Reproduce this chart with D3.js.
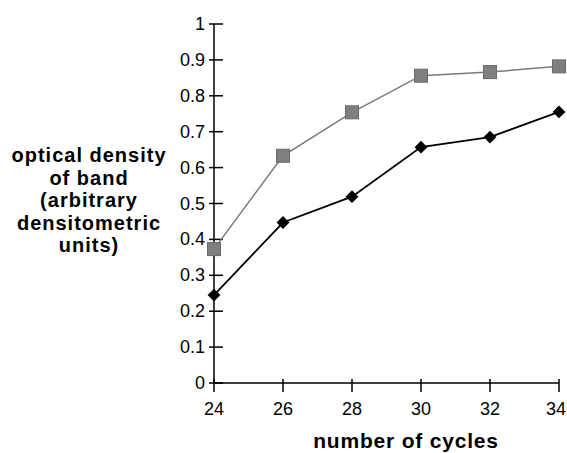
<!DOCTYPE html>
<html><head><meta charset="utf-8">
<script src="https://cdn.jsdelivr.net/npm/d3@7"></script>
<style>body{margin:0;background:#fff}svg{display:block}text{font-family:Arial,"Liberation Sans",sans-serif}</style>
</head><body>
<svg id="c" width="567" height="453"></svg>
<script>
const cycles = [24, 26, 28, 30, 32, 34];
const seriesSquare = [0.373, 0.633, 0.754, 0.856, 0.866, 0.882];
const seriesDiamond = [0.245, 0.447, 0.519, 0.657, 0.685, 0.755];
const yTicks = [0, 0.1, 0.2, 0.3, 0.4, 0.5, 0.6, 0.7, 0.8, 0.9, 1];
const xTicks = [24, 26, 28, 30, 32, 34];
const yTitle = ["optical density", "of band", "(arbitrary", "densitometric", "units)"];
const xTitle = "number of cycles";

const svg = d3.select("#c");
const x = d3.scaleLinear().domain([24, 34]).range([214, 559]);
const y = d3.scaleLinear().domain([0, 1]).range([383, 24]);

// y axis
const ya = svg.append("g").attr("transform", "translate(214,0)");
ya.append("line").attr("x1",0).attr("x2",0).attr("y1",y(0)).attr("y2",y(1)).attr("stroke","#000").attr("stroke-width",1.5);
ya.selectAll("line.t").data(yTicks).join("line").attr("class","t")
  .attr("x1",-5).attr("x2",9).attr("y1",d=>y(d)).attr("y2",d=>y(d)).attr("stroke","#000").attr("stroke-width",1.5);
ya.selectAll("text").data(yTicks).join("text")
  .attr("x",-9).attr("y",d=>y(d)+6).attr("text-anchor","end").attr("font-size",18).attr("fill","#000")
  .text(d=>d3.format("~g")(d));

// x axis
const xa = svg.append("g").attr("transform", `translate(0,${y(0)})`);
xa.append("line").attr("x1",x(24)).attr("x2",x(34)).attr("y1",0).attr("y2",0).attr("stroke","#000").attr("stroke-width",1.5);
xa.selectAll("line.t").data(xTicks).join("line").attr("class","t")
  .attr("x1",d=>x(d)).attr("x2",d=>x(d)).attr("y1",-4).attr("y2",9).attr("stroke","#000").attr("stroke-width",1.5);
xa.selectAll("text").data(xTicks).join("text")
  .attr("x",(d,i)=>i===xTicks.length-1 ? 566 : x(d))
  .attr("y",32)
  .attr("text-anchor",(d,i)=>i===xTicks.length-1 ? "end" : "middle")
  .attr("font-size",18).attr("fill","#000")
  .text(d=>d);

// titles
svg.append("text").attr("x",406).attr("y",448).attr("text-anchor","middle")
  .attr("font-size",21).attr("font-weight","bold").attr("letter-spacing",0.8).text(xTitle);
svg.append("g").selectAll("text").data(yTitle).join("text")
  .attr("x",89).attr("y",(d,i)=>162+i*22.6).attr("text-anchor","middle")
  .attr("font-size",20).attr("font-weight","bold").attr("letter-spacing",1).text(d=>d);

const line = d3.line().x((d,i)=>x(cycles[i])).y(d=>y(d));
svg.append("path").attr("d",line(seriesSquare)).attr("fill","none").attr("stroke","#7a7a7a").attr("stroke-width",1.5);
svg.append("path").attr("d",line(seriesDiamond)).attr("fill","none").attr("stroke","#000").attr("stroke-width",1.8);

svg.selectAll("rect.sq").data(seriesSquare).join("rect").attr("class","sq")
  .attr("x",(d,i)=>x(cycles[i])-6.5).attr("y",d=>y(d)-6.5).attr("width",13).attr("height",13)
  .attr("fill","#7f7f7f").attr("stroke","#6a6a6a").attr("stroke-width",1);
const dsym = d3.symbol().type(d3.symbolDiamond2).size(105);
svg.selectAll("path.dm").data(seriesDiamond).join("path").attr("class","dm")
  .attr("transform",(d,i)=>`translate(${x(cycles[i])},${y(d)})`).attr("d",dsym).attr("fill","#000");
</script>
</body></html>
